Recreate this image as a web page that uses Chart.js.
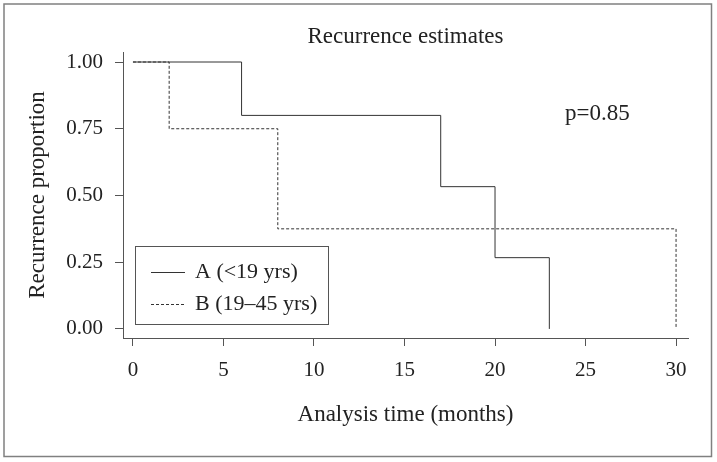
<!DOCTYPE html>
<html>
<head>
<meta charset="utf-8">
<script src="https://cdn.jsdelivr.net/npm/chart.js@4"></script>
<style>
  body { margin: 0; background: #fff; }
  #wrap { width: 717px; height: 462px; position: relative; }
</style>
</head>
<body>
<div id="wrap"><canvas id="km"></canvas></div>
<script>
// Kaplan-Meier style recurrence estimates
const timeA = [0, 6, 17, 20, 23];
const estA = [1.00, 0.80, 0.533, 0.267, 0];
const timeB = [0, 2, 8, 30];
const estB = [1.00, 0.75, 0.375, 0];

const xTicks = [0, 5, 10, 15, 20, 25, 30];
const yTicks = [0, 0.25, 0.50, 0.75, 1.00];

const labelA = 'A (<19 yrs)';
const labelB = 'B (19\u201345 yrs)';
const pText = 'p=0.85';

const serif = '"Liberation Serif", "Times New Roman", serif';
const ink = '#333';
const axisColor = '#555';

function toPoints(xs, ys) {
    return xs.map((x, i) => ({ x: x, y: ys[i] }));
}

// frame, title, p value and the boxed legend
const decor = {
    id: 'decor',
    beforeDraw(chart) {
        const ctx = chart.ctx;
        ctx.save();
        ctx.strokeStyle = '#808080';
        ctx.lineWidth = 1.5;
        ctx.strokeRect(4, 4, 707.5, 452.5);
        ctx.restore();
    },
    afterDraw(chart) {
        const ctx = chart.ctx;
        const area = chart.chartArea;
        ctx.save();
        ctx.fillStyle = '#222';
        ctx.font = '23px ' + serif;
        ctx.textAlign = 'center';
        ctx.textBaseline = 'alphabetic';
        ctx.fillText('Recurrence estimates', (area.left + area.right) / 2, 43);

        ctx.textAlign = 'left';
        ctx.fillText(pText, 565, 120);

        // legend box
        ctx.font = '22px ' + serif;
        ctx.strokeStyle = axisColor;
        ctx.lineWidth = 1;
        ctx.strokeRect(135.5, 246.5, 193, 78);
        const rows = [272.5, 304.5];
        chart.data.datasets.forEach((ds, i) => {
            ctx.strokeStyle = ds.borderColor;
            ctx.lineWidth = ds.borderWidth;
            ctx.setLineDash(ds.borderDash || []);
            ctx.beginPath();
            ctx.moveTo(151, rows[i]);
            ctx.lineTo(185, rows[i]);
            ctx.stroke();
            ctx.setLineDash([]);
            ctx.fillText(ds.label, 195, rows[i] + 5);
        });
        ctx.restore();
    }
};

new Chart(document.getElementById('km'), {
    type: 'line',
    data: {
        datasets: [{
            label: labelA,
            data: toPoints(timeA, estA),
            borderColor: ink,
            borderWidth: 1,
            pointRadius: 0,
            stepped: true,
            fill: false
        }, {
            label: labelB,
            data: toPoints(timeB, estB),
            borderColor: ink,
            borderWidth: 1,
            borderDash: [3, 2],
            pointRadius: 0,
            stepped: true,
            fill: false
        }]
    },
    options: {
        responsive: true,
        maintainAspectRatio: false,
        animation: false,
        layout: {
            padding: { top: 52, right: 29, left: 0, bottom: 0 }
        },
        plugins: {
            legend: { display: false },
            title: { display: false },
            tooltip: { enabled: false }
        },
        scales: {
            x: {
                type: 'linear',
                min: -0.55,
                max: 30.66,
                afterBuildTicks: (scale) => { scale.ticks = xTicks.map(v => ({ value: v })); },
                afterFit: (scale) => { scale.height = 124; },
                grid: { drawOnChartArea: false, drawTicks: true, tickLength: 8, color: axisColor },
                border: { display: true, color: axisColor, width: 1 },
                ticks: {
                    color: '#222',
                    padding: 12,
                    maxRotation: 0,
                    font: { family: serif, size: 21 }
                },
                title: {
                    display: true,
                    text: 'Analysis time (months)',
                    color: '#222',
                    padding: { top: 0, bottom: 33 },
                    font: { family: serif, size: 23 }
                }
            },
            y: {
                type: 'linear',
                min: -0.034,
                max: 1.0375,
                afterBuildTicks: (scale) => { scale.ticks = yTicks.map(v => ({ value: v })); },
                afterFit: (scale) => { scale.width = 123; },
                grid: { drawOnChartArea: false, drawTicks: true, tickLength: 8, color: axisColor },
                border: { display: true, color: axisColor, width: 1 },
                ticks: {
                    color: '#222',
                    padding: 12,
                    font: { family: serif, size: 21 },
                    callback: (v) => Number(v).toFixed(2)
                },
                title: {
                    display: true,
                    text: 'Recurrence proportion',
                    color: '#222',
                    padding: { top: 24, bottom: 0 },
                    font: { family: serif, size: 23 }
                }
            }
        }
    },
    plugins: [decor]
});
</script>
</body>
</html>
